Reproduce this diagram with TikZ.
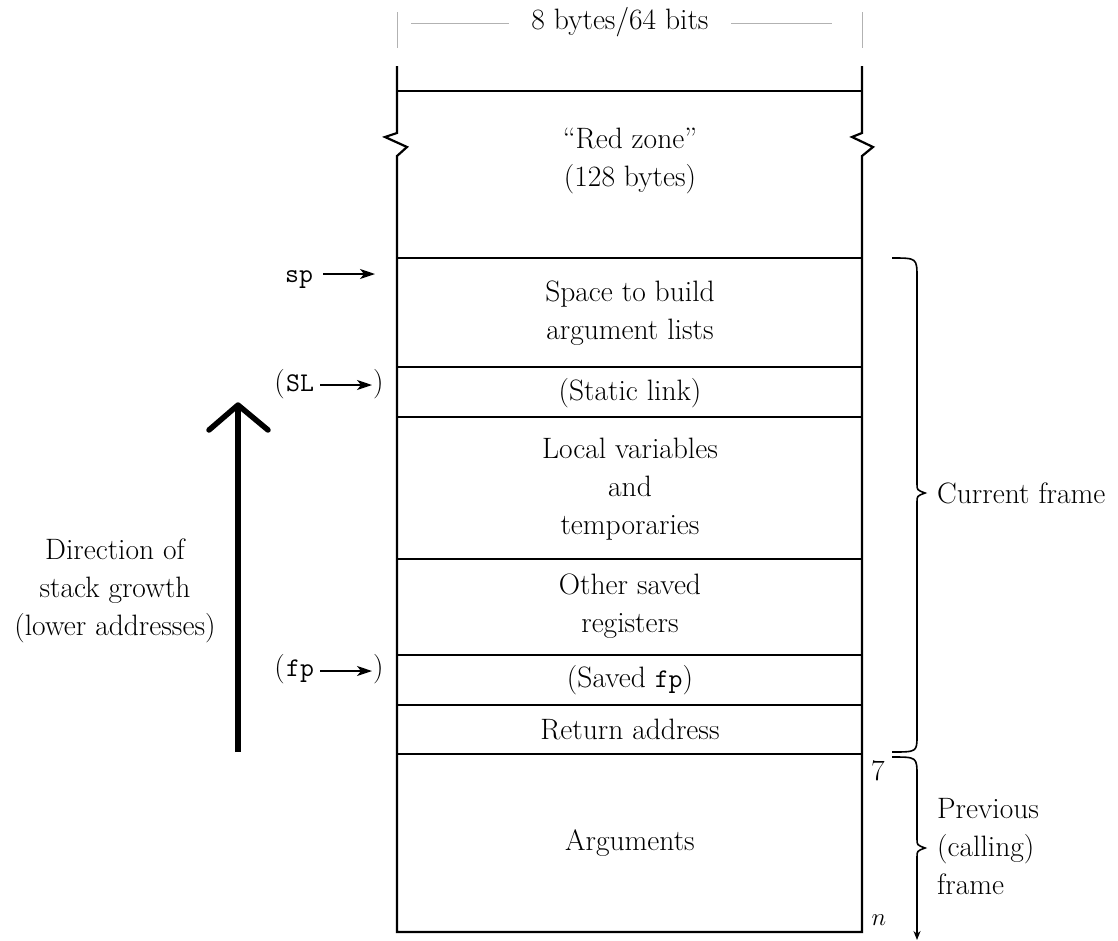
\documentclass[tikz,border=0pt]{standalone}
\usepackage{tikz}
\usetikzlibrary{arrows.meta}
\begin{document}
\begin{tikzpicture}[x=1pt,y=-1pt,
  frame/.style={line width=2.2pt,line join=miter},
  gray line/.style={gray!60,line width=1pt},
  lbl/.style={inner sep=0pt,align=center,font=\fontsize{29.5}{38}\selectfont},
  ttl/.style={inner sep=0pt,font=\fontsize{27}{38}\selectfont\ttfamily},
  ptr/.style={line width=1.3pt,-{Stealth[length=15pt,width=10pt,inset=4pt]}},
  brace/.style={line width=1.6pt}]
\useasboundingbox (0,0) rectangle (1118,940);
% dimension
\coordinate (tl1) at (397,12); \coordinate (tl2) at (397,48);
\coordinate (tr1) at (862,12); \coordinate (tr2) at (862,48);
\draw[gray line] (tl1) -- (tl2);
\draw[gray line] (tr1) -- (tr2);
\node[lbl] (dim) at (620,22) {8 bytes/64 bits};
\coordinate (g1) at (411,23); \coordinate (g2) at (509,23);
\coordinate (g3) at (731,23); \coordinate (g4) at (832,23);
\draw[gray line] (g1) -- (g2);
\draw[gray line] (g3) -- (g4);
% outer frame
\draw[frame] (397,66) -- (397,133) -- (385,137) -- (407,147) -- (397,156) -- (397,932)
  -- (862,932) -- (862,156) -- (873,147) -- (852,137) -- (862,133) -- (862,66);
\foreach \y in {91,258,367,417,559,655,705,754}
  \draw[frame] (397,\y) -- (862,\y);
% cell texts
\node[lbl] (rz) at (630,161) {``Red zone''\\(128 bytes)};
\node[lbl] (args) at (630,313) {Space to build\\argument lists};
\node[lbl] (sl) at (630,393) {(Static link)};
\node[lbl] (loc) at (630,489) {Local variables\\and\\temporaries};
\node[lbl] (osr) at (630,606) {Other saved\\registers};
\node[lbl] (sfp) at (630,680) {(Saved {\fontsize{27}{38}\selectfont\ttfamily fp})};
\node[lbl] (ra) at (630,729) {Return address};
\node[lbl] (arg) at (630,843) {Arguments};
% left pointers
\node[ttl,anchor=base west] (sp) at (285,282) {sp};
\coordinate (sps) at (323,274); \coordinate (spe) at (375,274);
\draw[ptr] (sps) -- (spe);
\node[lbl,anchor=base east] (slo) at (285,391) {(};
\node[ttl,anchor=base west] (slt) at (286,391) {SL};
\node[lbl,anchor=base west] (slc) at (373,391) {)};
\draw[ptr] ([xshift=6pt]slt.east |- 0,385) -- ([xshift=-1pt]slc.west |- 0,385);
\node[lbl,anchor=base east] (fpo) at (285,676) {(};
\node[ttl,anchor=base west] (fpt) at (286,676) {fp};
\node[lbl,anchor=base west] (fpc) at (373,676) {)};
\draw[ptr] ([xshift=6pt]fpt.east |- 0,671) -- ([xshift=-1pt]fpc.west |- 0,671);
% growth arrow
\coordinate (ab) at (238,752); \coordinate (at) at (238,407);
\coordinate (wl) at (209,430); \coordinate (wr) at (268,430);
\draw[line width=5.5pt] (ab) -- (at);
\draw[line width=5.5pt,line cap=round,line join=round] (wl) -- (238,405) -- (wr);
\node[lbl] (dir) at (115,591) {Direction of\\stack growth\\(lower addresses)};
% braces
\draw[brace] (892,258) .. controls (917,258) .. (917,278) -- (917,484)
  .. controls (917,490) .. (925,493) .. controls (917,496) .. (917,502)
  -- (917,735) .. controls (917,752) .. (892,752);
\node[lbl,anchor=west] (cur) at (937,493) {Current frame};
\draw[brace,-{Stealth[length=9pt,width=7pt]}] (892,757) .. controls (917,757) .. (917,776) -- (917,839)
  .. controls (917,845) .. (925,848) .. controls (917,851) .. (917,857) -- (917,940);
\node[lbl] (seven) at (878,771) {7};
\node[lbl] (nn) at (879,920) {$n$};
\node[lbl,anchor=west,align=left] (prev) at (937,847) {Previous\\(calling)\\frame};
\end{tikzpicture}
\end{document}
